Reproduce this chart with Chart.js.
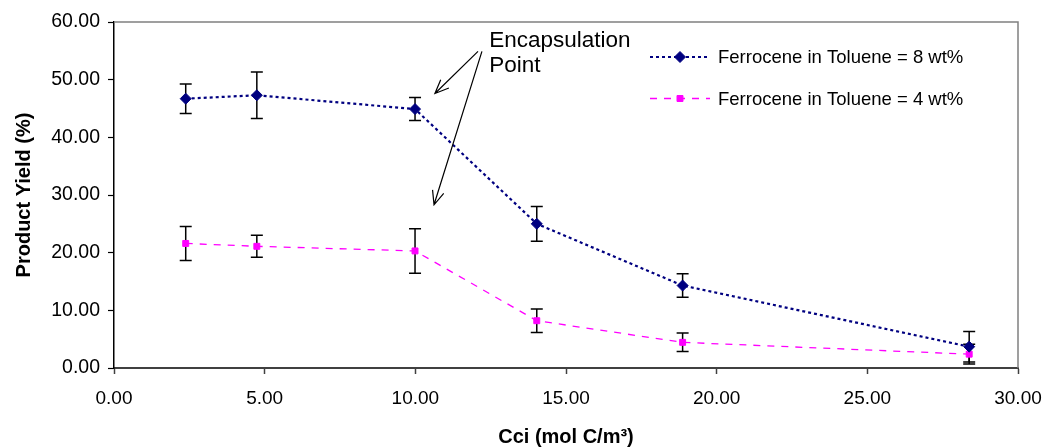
<!DOCTYPE html>
<html>
<head>
<meta charset="utf-8">
<script src="https://cdn.jsdelivr.net/npm/chart.js@4"></script>
<style>
  html, body { margin: 0; padding: 0; background: #fff; }
  #wrap { width: 1045px; height: 447px; }
</style>
</head>
<body>
<div id="wrap"><canvas id="myChart" width="1045" height="447"></canvas></div>
<script>
// Data
const cciValues = [2.38, 4.74, 9.99, 14.03, 18.87, 28.38];
const yield8 = [46.7, 47.3, 44.9, 25.0, 14.3, 3.7];
const err8 = [2.55, 4.05, 2.0, 3.0, 2.05, 2.65];
const yield4 = [21.6, 21.1, 20.3, 8.2, 4.45, 2.4];
const err4 = [2.95, 1.9, 3.85, 2.05, 1.6, 1.7];

const label8 = "Ferrocene in Toluene = 8 wt%";
const label4 = "Ferrocene in Toluene = 4 wt%";
const noteLines = ["Encapsulation", "Point"];

const FONT = "'Liberation Sans', Arial, sans-serif";
const ctx = document.getElementById("myChart").getContext("2d");

// error bars, drawn before the datasets so markers sit on top
const errorBars = {
  id: "errorBars",
  beforeDatasetsDraw(chart) {
    const { ctx, scales: { x, y } } = chart;
    ctx.save();
    ctx.strokeStyle = "#000";
    ctx.lineWidth = 1.5;
    chart.data.datasets.forEach((ds) => {
      ds.data.forEach((p, i) => {
        const px = x.getPixelForValue(p.x);
        const top = y.getPixelForValue(p.y + ds.errors[i]);
        const bot = y.getPixelForValue(p.y - ds.errors[i]);
        ctx.beginPath();
        ctx.moveTo(px, top); ctx.lineTo(px, bot);
        ctx.moveTo(px - 6, top); ctx.lineTo(px + 6, top);
        ctx.moveTo(px - 6, bot); ctx.lineTo(px + 6, bot);
        ctx.stroke();
      });
    });
    ctx.restore();
  },
};

// plot frame (top/right grey border), legend and the annotation
const extras = {
  id: "extras",
  afterDraw(chart) {
    const { ctx, chartArea: a, scales: { x, y } } = chart;
    ctx.save();
    ctx.strokeStyle = "#808080";
    ctx.lineWidth = 1.5;
    ctx.beginPath();
    ctx.moveTo(a.left, a.top); ctx.lineTo(a.right, a.top); ctx.lineTo(a.right, a.bottom);
    ctx.stroke();

    // legend
    ctx.font = "18.5px " + FONT;
    ctx.textBaseline = "middle";
    chart.data.datasets.forEach((ds, i) => {
      const ly = a.top + 35 + i * 41.5;
      const lx = a.right - 368;
      ctx.save();
      ctx.strokeStyle = ds.borderColor;
      ctx.lineWidth = ds.borderWidth;
      ctx.setLineDash(ds.borderDash);
      ctx.beginPath(); ctx.moveTo(lx, ly); ctx.lineTo(lx + 60, ly); ctx.stroke();
      ctx.restore();
      ctx.fillStyle = ds.backgroundColor;
      ctx.strokeStyle = ds.borderColor;
      ctx.lineWidth = 1;
      Chart.helpers.drawPoint(ctx, { pointStyle: ds.pointStyle, radius: ds.pointRadius, borderWidth: 1 }, lx + 30, ly);
      ctx.fillStyle = "#000";
      ctx.fillText(ds.label, lx + 68, ly + 1);
    });

    // annotation text
    ctx.font = "22.5px " + FONT;
    ctx.textBaseline = "alphabetic";
    ctx.textAlign = "left";
    ctx.fillStyle = "#000";
    const tx = x.getPixelForValue(12.45);
    const ty = y.getPixelForValue(55.7);
    noteLines.forEach((t, i) => ctx.fillText(t, tx, ty + i * 25));

    // arrows
    const arrows = [
      [12.08, 54.9, 10.65, 47.6],
      [12.21, 54.9, 10.62, 28.3],
    ];
    ctx.strokeStyle = "#000";
    ctx.lineWidth = 1.2;
    arrows.forEach(([x1, y1, x2, y2]) => {
      const ax = x.getPixelForValue(x1), ay = y.getPixelForValue(y1);
      const bx = x.getPixelForValue(x2), by = y.getPixelForValue(y2);
      const ang = Math.atan2(by - ay, bx - ax);
      ctx.beginPath();
      ctx.moveTo(ax, ay); ctx.lineTo(bx, by);
      ctx.moveTo(bx - 15 * Math.cos(ang - 0.4), by - 15 * Math.sin(ang - 0.4));
      ctx.lineTo(bx, by);
      ctx.lineTo(bx - 15 * Math.cos(ang + 0.4), by - 15 * Math.sin(ang + 0.4));
      ctx.stroke();
    });
    ctx.restore();
  },
};

const chart = new Chart(ctx, {
  type: "line",
  data: {
    datasets: [
      {
        label: label8,
        data: cciValues.map((c, i) => ({ x: c, y: yield8[i] })),
        errors: err8,
        borderColor: "#000080",
        backgroundColor: "#000080",
        borderWidth: 2.2,
        borderDash: [3, 3],
        pointStyle: "rectRot",
        pointRadius: 5.5,
        pointBorderWidth: 1,
      },
      {
        label: label4,
        data: cciValues.map((c, i) => ({ x: c, y: yield4[i] })),
        errors: err4,
        borderColor: "#ff00ff",
        backgroundColor: "#ff00ff",
        borderWidth: 1.3,
        borderDash: [7, 7],
        pointStyle: "rect",
        pointRadius: 4.2,
        pointBorderWidth: 1,
      },
    ],
  },
  options: {
    responsive: false,
    animation: false,
    layout: { padding: { top: 22, right: 27, left: 0, bottom: 0 } },
    plugins: { legend: { display: false }, tooltip: { enabled: false } },
    scales: {
      x: {
        type: "linear",
        min: 0,
        max: 30,
        afterFit: (s) => { s.height = 79; s.paddingLeft = 0; s.paddingRight = 0; },
        ticks: {
          stepSize: 5,
          padding: 13,
          color: "#000",
          font: { family: FONT, size: 19 },
          callback: (v) => v.toFixed(2),
        },
        grid: { drawOnChartArea: false, tickLength: 6, tickColor: "#404040", tickWidth: 1.5 },
        border: { color: "#404040", width: 2 },
        title: {
          display: true,
          text: "Cci (mol C/m³)",
          color: "#000",
          font: { family: FONT, size: 20, weight: "bold", lineHeight: 1 },
          padding: 0,
        },
      },
      y: {
        min: 0,
        max: 60,
        afterFit: (s) => { s.width = 114; s.paddingTop = 0; s.paddingBottom = 0; },
        ticks: {
          stepSize: 10,
          padding: 8,
          color: "#000",
          font: { family: FONT, size: 19.5 },
          callback: (v) => v.toFixed(2),
        },
        grid: { drawOnChartArea: false, tickLength: 6, tickColor: "#000", tickWidth: 1.2 },
        border: { color: "#000", width: 1.5 },
        title: {
          display: true,
          text: "Product Yield (%)",
          color: "#000",
          font: { family: FONT, size: 20, weight: "bold", lineHeight: 1 },
          padding: { top: 14, bottom: 0 },
        },
      },
    },
  },
  plugins: [errorBars, extras],
});
</script>
</body>
</html>
